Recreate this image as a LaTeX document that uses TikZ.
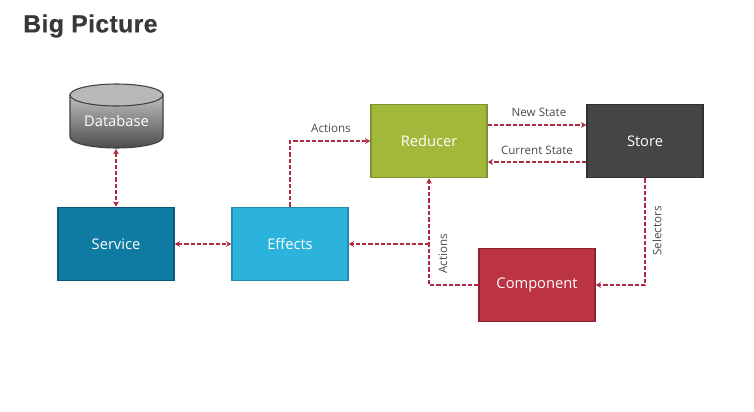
\documentclass[tikz,border=0pt]{standalone}
\usepackage{fontspec}
\setmainfont{Open Sans}
\newfontfamily\titlefont[LetterSpace=1.5,FakeBold=0.6]{Liberation Sans Bold}
\usetikzlibrary{arrows.meta}
\definecolor{linkred}{HTML}{B02A42}
\definecolor{labelgray}{HTML}{4A4A4A}
\tikzset{
  block/.style={draw,line width=1pt,minimum width=87pt,minimum height=55pt,inner sep=0pt,
    text=white,font=\fontsize{11}{13}\selectfont},
  link/.style={draw=linkred,line width=1.4pt,dash pattern=on 3.2pt off 1.5pt,
    arrows={-Stealth[length=4pt,width=4.4pt]}},
  twolink/.style={link,arrows={Stealth[length=4pt,width=4.4pt]-Stealth[length=4pt,width=4.4pt]}},
  tag/.style={text=labelgray,inner sep=0pt,font=\fontsize{8.7}{10}\selectfont}
}
\begin{document}
\begin{tikzpicture}[x=.75pt,y=-.75pt]
  \useasboundingbox (0,0) rectangle (754,411);
  \node[anchor=west,inner sep=0pt,text=black!78,font=\fontsize{18.6}{20}\titlefont] (title) at (23,26) {Big Picture};
  % database drum
  \draw[draw=black!75,line width=.8pt,top color=black!25,bottom color=black!70]
    (70,95) -- (70,137) arc [x radius=46.5,y radius=11,start angle=180,end angle=0] -- (163,95) -- cycle;
  \draw[draw=black!75,line width=.8pt,fill=black!28] (116.5,95) ellipse [x radius=46.5,y radius=11];
  \node[text=white,inner sep=0pt,font=\fontsize{11}{13}\selectfont] (db) at (116.5,121) {Database};
  \coordinate (dbbase) at (116,149);
  \node[block,fill={rgb,255:red,15;green,123;blue,163},draw={rgb,255:red,10;green,88;blue,118}] (service) at (116,244) {Service};
  \node[block,fill={rgb,255:red,43;green,179;blue,220},draw={rgb,255:red,30;green,140;blue,175}] (effects) at (290,244) {Effects};
  \node[block,fill={rgb,255:red,162;green,184;blue,58},draw={rgb,255:red,125;green,148;blue,48}] (reducer) at (429,141) {Reducer};
  \node[block,fill={rgb,255:red,69;green,69;blue,71},draw={rgb,255:red,48;green,48;blue,50}] (store) at (645,141) {Store};
  \node[block,fill={rgb,255:red,188;green,51;blue,68},draw={rgb,255:red,142;green,34;blue,50}] (component) at (537,285) {Component};
  \coordinate (junction) at (reducer.south |- effects.east);
  % connectors
  \draw[twolink] (dbbase) -- (service.north);
  \draw[twolink] (service) -- (effects);
  \draw[link] (effects.north) |- (reducer.west);
  \draw[link] ([yshift=12pt]reducer.east) -- ([yshift=12pt]store.west);
  \draw[link] ([yshift=-15.75pt]store.west) -- ([yshift=-15.75pt]reducer.east);
  \draw[link] (store.south) |- (component.east);
  \draw[link] (component.west) -| (reducer.south);
  \draw[link] (junction) -- (effects.east);
  % labels
  \node[tag] (actionstop) at (331,128) {Actions};
  \node[tag] (newstate) at (539,112) {New State};
  \node[tag] (currentstate) at (537,150) {Current State};
  \node[tag,rotate=90] (actionsside) at (443,254) {Actions};
  \node[tag,rotate=90] (selectors) at (657,231) {Selectors};
\end{tikzpicture}
\end{document}
